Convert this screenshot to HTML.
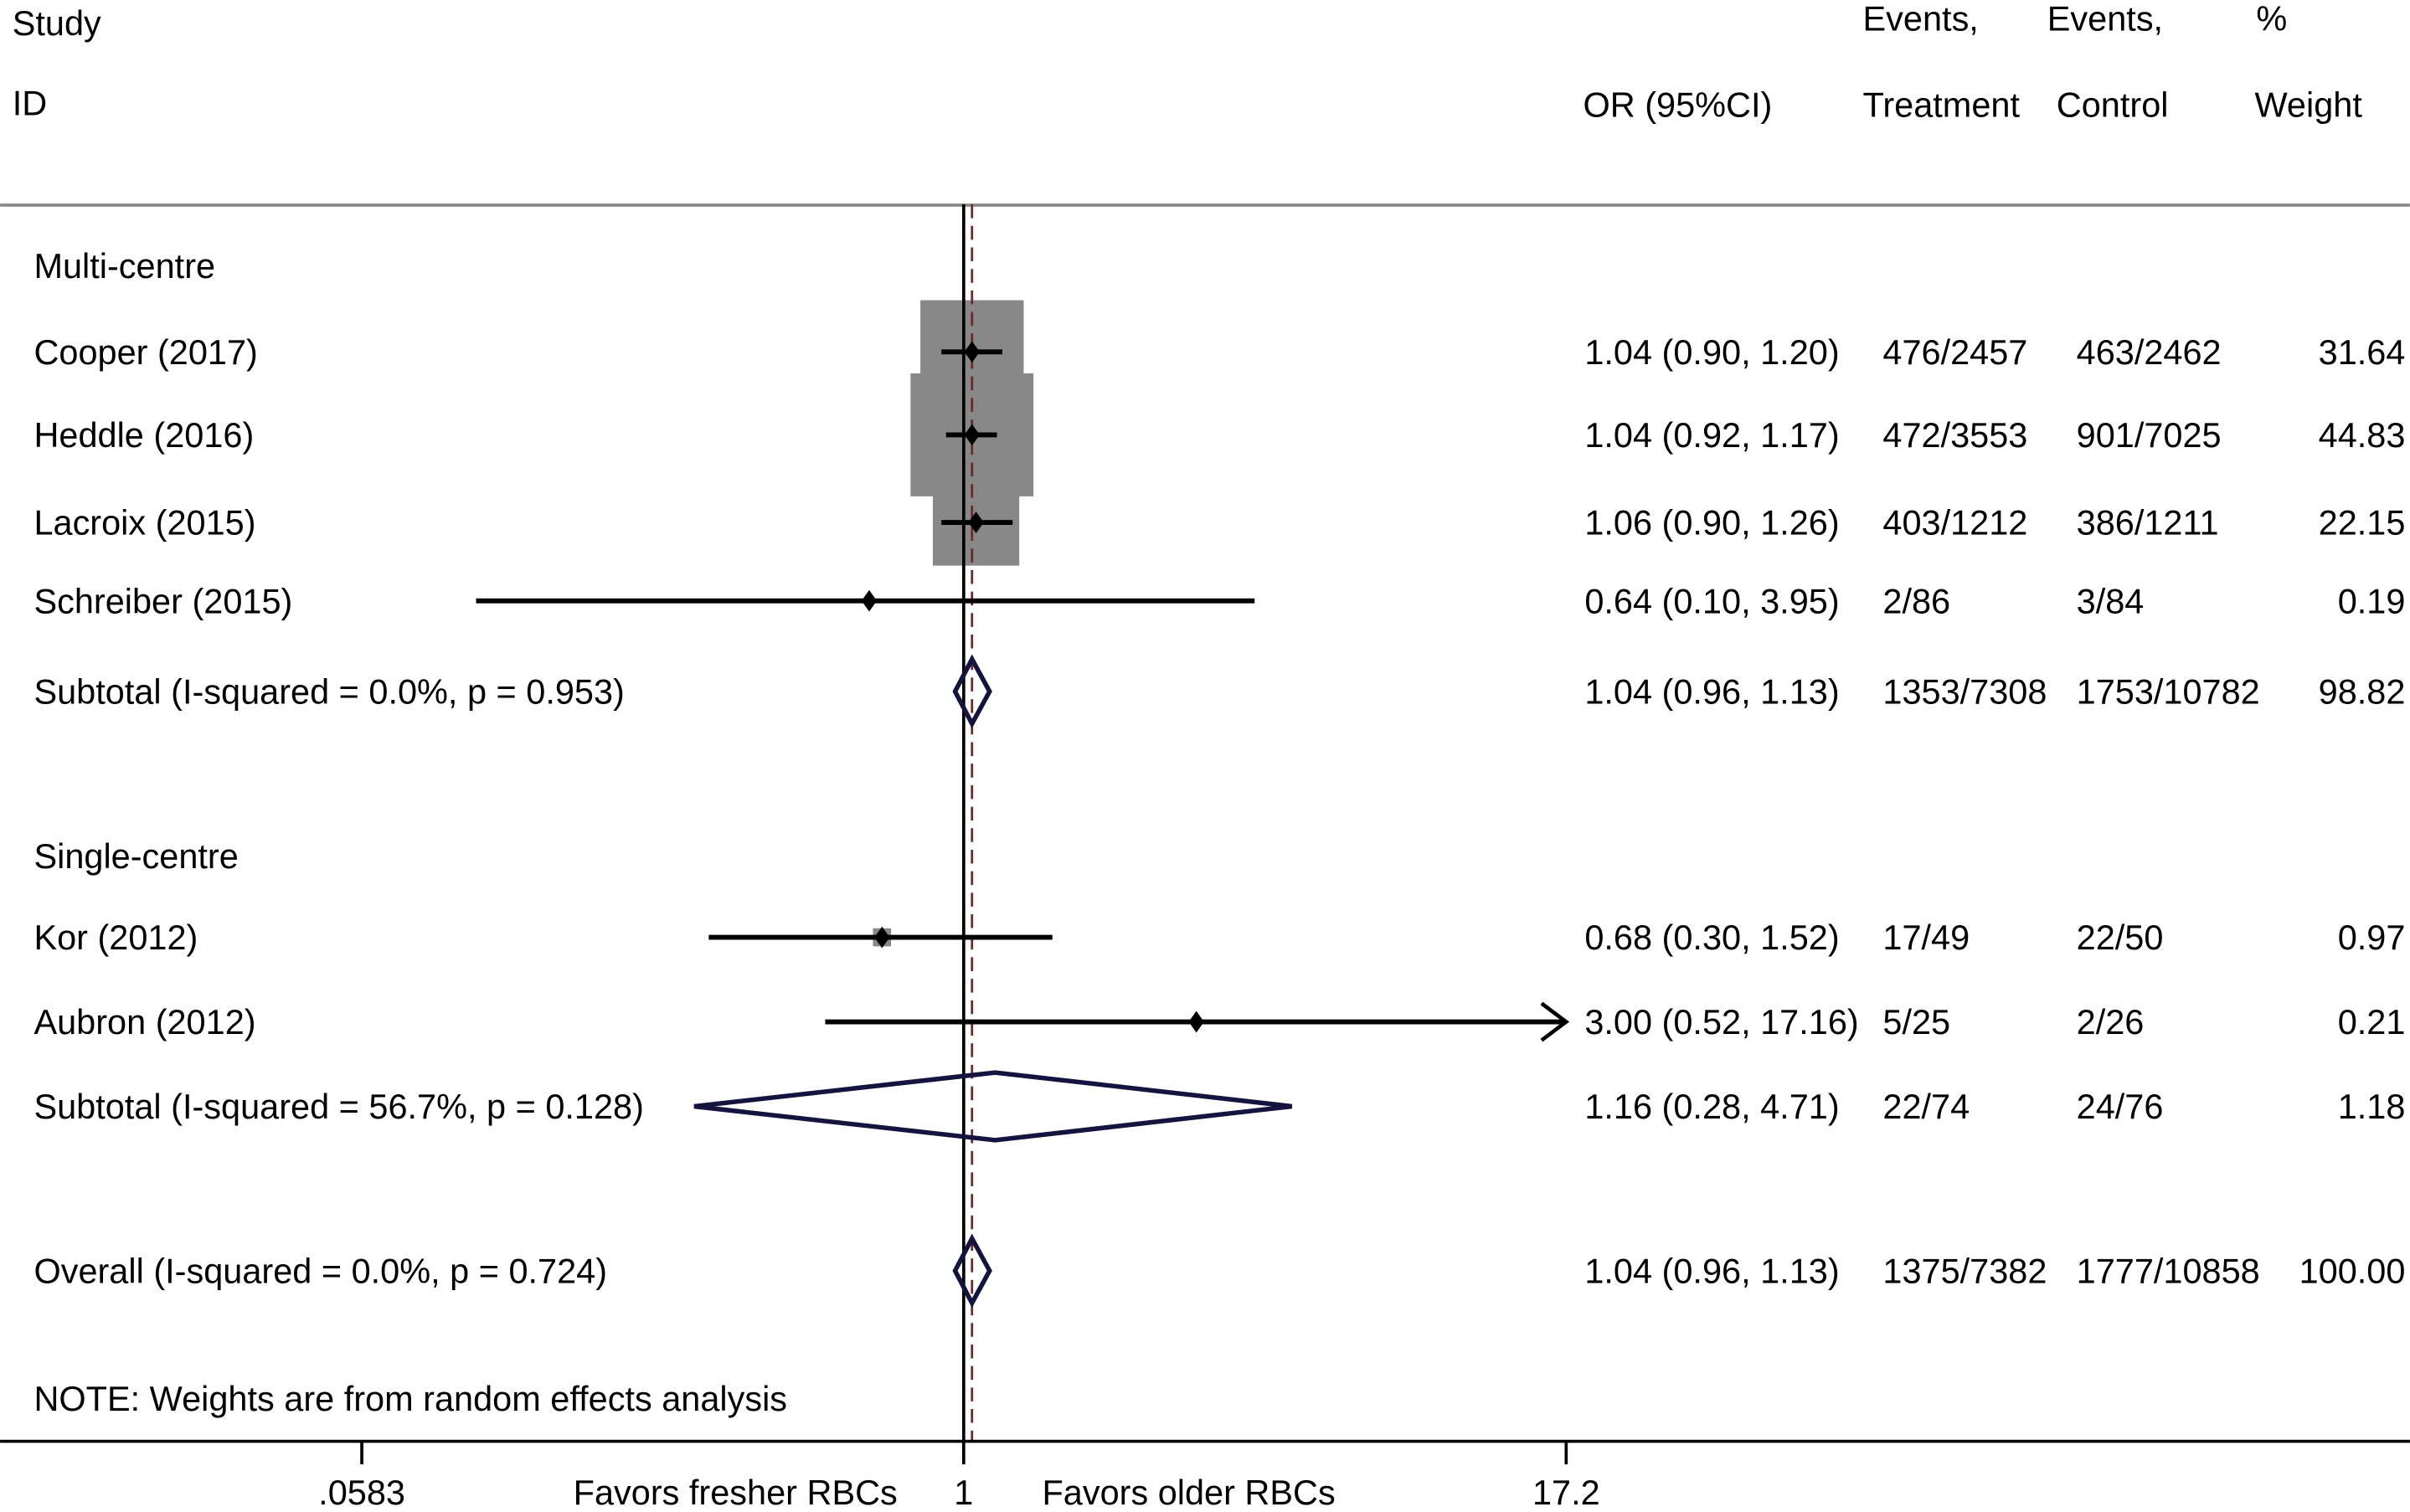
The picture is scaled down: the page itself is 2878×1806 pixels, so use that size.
<!DOCTYPE html>
<html><head><meta charset="utf-8"><style>
html,body{margin:0;padding:0;background:#fff;}
svg{display:block;font-family:"Liberation Sans",Arial,sans-serif;}
</style></head><body>
<svg id="chart" width="2878" height="1806" viewBox="0 0 1568 984" xmlns="http://www.w3.org/2000/svg">
<rect width="1568" height="984" fill="#fff"/>
<g id="static" font-size="22.6" fill="#000">
<text x="8" y="23">Study</text>
<text x="8" y="75">ID</text>
<text x="1030" y="76">OR (95%CI)</text>
<text x="1212" y="20">Events,</text>
<text x="1212" y="76">Treatment</text>
<text x="1332" y="20">Events,</text>
<text x="1338" y="76">Control</text>
<text x="1468" y="20">%</text>
<text x="1467" y="76">Weight</text>
<text x="22" y="181">Multi-centre</text>
<text x="22" y="565">Single-centre</text>
<text x="22" y="918">NOTE: Weights are from random effects analysis</text>
<text x="373" y="979">Favors fresher RBCs</text>
<text x="678" y="979">Favors older RBCs</text>
</g>
<line x1="0" y1="133.5" x2="1568" y2="133.5" stroke="#8a8a8a" stroke-width="2"/>
<g id="plot"></g>
</svg>
<script>
const labels = ["Cooper (2017)","Heddle (2016)","Lacroix (2015)","Schreiber (2015)","Subtotal (I-squared = 0.0%, p = 0.953)","Kor (2012)","Aubron (2012)","Subtotal (I-squared = 56.7%, p = 0.128)","Overall (I-squared = 0.0%, p = 0.724)"];
const kinds = ["study","study","study","study","pooled","study","study","pooled","pooled"];
const rowY = [229,283,340,391,450,610,665,720,827];
const orVals = [1.04,1.04,1.06,0.64,1.04,0.68,3.00,1.16,1.04];
const lowVals = [0.90,0.92,0.90,0.10,0.96,0.30,0.52,0.28,0.96];
const highVals = [1.20,1.17,1.26,3.95,1.13,1.52,17.16,4.71,1.13];
const orText = ["1.04 (0.90, 1.20)","1.04 (0.92, 1.17)","1.06 (0.90, 1.26)","0.64 (0.10, 3.95)","1.04 (0.96, 1.13)","0.68 (0.30, 1.52)","3.00 (0.52, 17.16)","1.16 (0.28, 4.71)","1.04 (0.96, 1.13)"];
const treatText = ["476/2457","472/3553","403/1212","2/86","1353/7308","17/49","5/25","22/74","1375/7382"];
const ctrlText = ["463/2462","901/7025","386/1211","3/84","1753/10782","22/50","2/26","24/76","1777/10858"];
const weights = [31.64,44.83,22.15,0.19,98.82,0.97,0.21,1.18,100.00];
const tickVals = [0.0583,1,17.2];
const tickLabels = [".0583","1","17.2"];
const overallOR = 1.04;

const NS="http://www.w3.org/2000/svg";
const g=document.getElementById('plot');
const X0=627, XMAX=17.2, XMIN=0.0583, SPAN=392;
const FS=22.6;
function xs(v){ return X0 + SPAN*Math.log(v)/Math.log(XMAX); }
function mk(tag,attrs,parent){ const e=document.createElementNS(NS,tag); for(const k in attrs) e.setAttribute(k,attrs[k]); (parent||g).appendChild(e); return e; }
const AX_Y=938;

for(let i=0;i<labels.length;i++){
  if(kinds[i]!=="study") continue;
  const s=11.95*Math.sqrt(weights[i]);
  const b=mk('rect',{x:xs(orVals[i])-s/2,y:rowY[i]-s/2,width:s,height:s,fill:'#888'});
  
  
}
const nl=mk('line',{x1:xs(1),x2:xs(1),y1:133,y2:AX_Y,stroke:'#000','stroke-width':2});


const ol=mk('line',{x1:xs(overallOR),x2:xs(overallOR),y1:133,y2:AX_Y,stroke:'#6b2a2a','stroke-width':1.5,'stroke-dasharray':'9,5'});



for(let i=0;i<labels.length;i++){
  const y=rowY[i];
  const t=mk('text',{x:22,y:y+8,'font-size':FS});
  t.textContent=labels[i];
  
  
  const o=mk('text',{x:1031,y:y+8,'font-size':FS}); o.textContent=orText[i];
  
  
  const tt=mk('text',{x:1225,y:y+8,'font-size':FS}); tt.textContent=treatText[i];
  
  
  const ct=mk('text',{x:1351,y:y+8,'font-size':FS}); ct.textContent=ctrlText[i];
  
  
  const wt=mk('text',{x:1565,y:y+8,'font-size':FS,'text-anchor':'end'}); wt.textContent=weights[i].toFixed(2);
  
  

  if(kinds[i]==="study"){
    const hiClip=Math.min(highVals[i],XMAX), loClip=Math.max(lowVals[i],XMIN);
    const ln=mk('line',{x1:xs(loClip),x2:xs(hiClip),y1:y,y2:y,stroke:'#000','stroke-width':3.2});
    
    
    if(highVals[i]>=XMAX*0.99){
      const xe=xs(XMAX);
      const ar=mk('polyline',{points:`${xe-16},${y-12} ${xe},${y} ${xe-16},${y+12}`,fill:'none',stroke:'#000','stroke-width':2.5});
      
      
    }
    const cx=xs(orVals[i]);
    const pt=mk('polygon',{points:`${cx-5},${y} ${cx},${y-7} ${cx+5},${y} ${cx},${y+7}`,fill:'#000'});
    
    
  } else {
    const h=i===7?22:21;
    const dm=mk('polygon',{points:`${xs(lowVals[i])},${y} ${xs(orVals[i])},${y-h} ${xs(highVals[i])},${y} ${xs(orVals[i])},${y+h}`,fill:'none',stroke:'#14143f','stroke-width':3});
    
    
  }
}
const ax=mk('line',{x1:0,x2:1568,y1:AX_Y,y2:AX_Y,stroke:'#000','stroke-width':2});


for(let k=0;k<tickVals.length;k++){
  const x=xs(tickVals[k]);
  const tk=mk('line',{x1:x,x2:x,y1:AX_Y,y2:AX_Y+15,stroke:'#000','stroke-width':2});
  
  
  const tl=mk('text',{x:x,y:979,'font-size':FS,'text-anchor':'middle'}); tl.textContent=tickLabels[k];
  
  
}
</script>
</body></html>
